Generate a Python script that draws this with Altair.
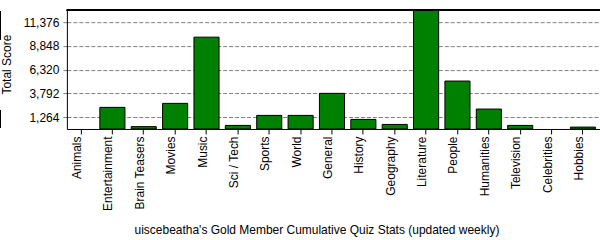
import altair as alt
import pandas as pd

categories = ["Animals", "Entertainment", "Brain Teasers", "Movies", "Music",
              "Sci / Tech", "Sports", "World", "General", "History", "Geography",
              "Literature", "People", "Humanities", "Television", "Celebrities", "Hobbies"]
scores = [0, 2300, 250, 2725, 9770, 380, 1445, 1445, 3792, 1020, 485,
          12640, 5100, 2120, 380, 0, 200]
y_ticks = [1264, 3792, 6320, 8848, 11376]
y_max = 12640

df = pd.DataFrame({"category": categories, "score": scores})

W, H = 534, 119

bars = alt.Chart(df).mark_bar(color="#008000", stroke="black", strokeWidth=1).encode(
    x=alt.X("category:N", sort=categories,
            scale=alt.Scale(paddingInner=0.2, paddingOuter=0.097, align=0.26),
            axis=alt.Axis(title="uiscebeatha's Gold Member Cumulative Quiz Stats (updated weekly)",
                          labelAngle=270, labelAlign="right", labelBaseline="alphabetic",
                          tickSize=5, labelPadding=2, tickColor="black", domainColor="black",
                          titleX=250, titleY=105, titleAlign="center", titleBaseline="alphabetic")),
    y=alt.Y("score:Q", scale=alt.Scale(domain=[0, y_max], nice=False, zero=True),
            axis=alt.Axis(values=y_ticks, format=",d", title="Total Score",
                          grid=True, gridDash=[4, 2], gridColor="#808080", gridOpacity=1,
                          tickDash=[4, 2], tickColor="#808080", tickSize=4, labelPadding=4,
                          domainColor="black",
                          titleX=-60, titleY=54, titleAngle=270, titleAlign="center",
                          titleBaseline="middle")),
    strokeOpacity=alt.condition(alt.datum.score > 0, alt.value(1), alt.value(0)),
)

top_border = alt.Chart(df).mark_rule(color="black", strokeWidth=1).encode(
    x=alt.value(0), x2=alt.value(W), y=alt.value(0)
)
left_mark1 = alt.Chart(df).mark_rule(color="black", strokeWidth=1).encode(
    x=alt.value(-66.5), y=alt.value(1), y2=alt.value(29)
)
left_mark2 = alt.Chart(df).mark_rule(color="black", strokeWidth=1).encode(
    x=alt.value(-66.5), y=alt.value(100), y2=alt.value(118)
)

chart = alt.layer(bars, top_border, left_mark1, left_mark2).properties(
    width=W, height=H,
    padding={"left": 67, "top": 10, "right": 0, "bottom": 111},
    autosize=alt.AutoSizeParams(type="none"),
).configure(font="Liberation Sans").configure_view(stroke=None).configure_axis(
    labelFontSize=12, titleFontSize=12, titleFontWeight="normal",
    labelColor="black", titleColor="black", domainWidth=1, tickWidth=1,
)

chart.save("out.html", embed_options={"renderer": "svg", "actions": False})
